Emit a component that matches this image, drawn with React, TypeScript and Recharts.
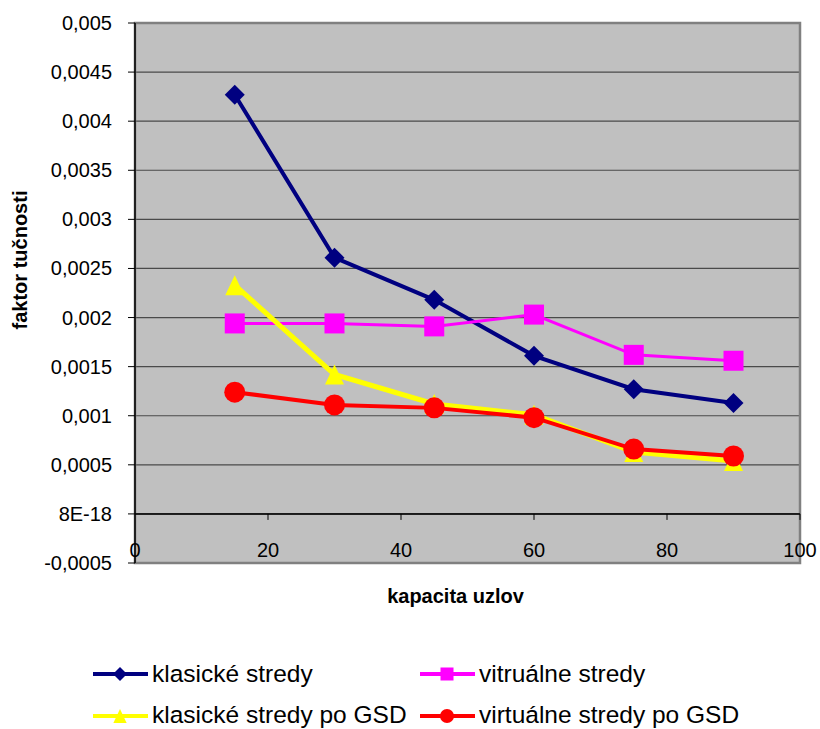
import React from 'react';
import {
  LineChart,
  Line,
  XAxis,
  YAxis,
  CartesianGrid,
  ReferenceLine,
  ReferenceArea,
  Legend,
} from 'recharts';

// kapacita uzlov (x values)
const kapacita = [15, 30, 45, 60, 75, 90];

// faktor tučnosti per series
const klasickeStredy = [0.00427, 0.00261, 0.00218, 0.00161, 0.00127, 0.00113];
const vitrualneStredy = [0.00194, 0.00194, 0.00191, 0.00203, 0.00162, 0.00156];
const klasickeStredyGsd = [0.00233, 0.00142, 0.00112, 0.00101, 0.00063, 0.00054];
const virtualneStredyGsd = [0.00124, 0.00111, 0.00108, 0.00098, 0.00066, 0.00059];

// axis ticks
const xTicks = [0, 20, 40, 60, 80, 100];
const yTicks = [-0.0005, 0, 0.0005, 0.001, 0.0015, 0.002, 0.0025, 0.003, 0.0035, 0.004, 0.0045, 0.005];
const yTickLabels = ['-0,0005', '8E-18', '0,0005', '0,001', '0,0015', '0,002', '0,0025', '0,003', '0,0035', '0,004', '0,0045', '0,005'];

const seriesNames = ['klasické stredy', 'vitruálne stredy', 'klasické stredy po GSD', 'virtuálne stredy po GSD'];

const FONT = '"Liberation Sans", Arial, sans-serif';

const data = kapacita.map((k, i) => ({
  k,
  s0: klasickeStredy[i],
  s1: vitrualneStredy[i],
  s2: klasickeStredyGsd[i],
  s3: virtualneStredyGsd[i],
}));

const Y_MIN = yTicks[0];
const Y_MAX = yTicks[yTicks.length - 1];
const PLOT_H = 540;
const tickLen = ((Y_MAX - Y_MIN) * 6) / PLOT_H;

type MarkerKind = 'diamond' | 'square' | 'triangle' | 'circle';

function Marker({ kind, cx, cy, color, size }: { kind: MarkerKind; cx: number; cy: number; color: string; size: number }) {
  const h = size / 2;
  if (kind === 'diamond') {
    return <polygon points={`${cx},${cy - h} ${cx + h},${cy} ${cx},${cy + h} ${cx - h},${cy}`} fill={color} />;
  }
  if (kind === 'square') {
    return <rect x={cx - h} y={cy - h} width={size} height={size} fill={color} />;
  }
  if (kind === 'triangle') {
    return <polygon points={`${cx},${cy - h} ${cx + h * 0.95},${cy + h} ${cx - h * 0.95},${cy + h}`} fill={color} />;
  }
  return <circle cx={cx} cy={cy} r={h} fill={color} />;
}

const series: { key: string; name: string; color: string; width: number; marker: MarkerKind; size: number; legendSize: number }[] = [
  { key: 's0', name: seriesNames[0], color: '#000080', width: 4, marker: 'diamond', size: 20, legendSize: 14 },
  { key: 's1', name: seriesNames[1], color: '#FF00FF', width: 3, marker: 'square', size: 20, legendSize: 13 },
  { key: 's2', name: seriesNames[2], color: '#FFFF00', width: 5, marker: 'triangle', size: 20, legendSize: 14 },
  { key: 's3', name: seriesNames[3], color: '#FF0000', width: 4, marker: 'circle', size: 21, legendSize: 14 },
];

const legendLayout = [
  { x: 93, line: 674, base: 682 },
  { x: 420, line: 674, base: 682 },
  { x: 93, line: 716, base: 723 },
  { x: 420, line: 716, base: 723 },
];

const LEGEND_TOP = 645;

function LegendContent() {
  return (
    <svg width={820} height={84} style={{ display: 'block' }}>
      {series.map((s, i) => {
        const p = legendLayout[i];
        const ly = p.line - LEGEND_TOP;
        return (
          <g key={s.key}>
            <line x1={p.x} y1={ly} x2={p.x + 55} y2={ly} stroke={s.color} strokeWidth={4} />
            <Marker kind={s.marker} cx={p.x + 27} cy={ly} color={s.color} size={s.legendSize} />
            <text x={p.x + 59} y={p.base - LEGEND_TOP} fontFamily={FONT} fontSize={24.5} fill="#000">
              {s.name}
            </text>
          </g>
        );
      })}
    </svg>
  );
}

function XTick(props: any) {
  const { x, y, payload } = props;
  return (
    <text x={x} y={y - 6} textAnchor="middle" fontFamily={FONT} fontSize={20} fill="#000">
      {payload.value}
    </text>
  );
}

function YTick(props: any) {
  const { x, y, payload } = props;
  const idx = yTicks.indexOf(payload.value);
  const label = idx >= 0 ? yTickLabels[idx] : String(payload.value);
  return (
    <text x={x} y={y} dy={7} textAnchor="end" fontFamily={FONT} fontSize={20} fill="#000">
      {label}
    </text>
  );
}

export default function App() {
  return (
    <div style={{ position: 'absolute', left: 0, top: 0, width: 820, height: 729, background: '#fff' }}>
      <LineChart width={820} height={729} data={data} margin={{ top: 23, right: 20, left: 0, bottom: 136 }}>
        <CartesianGrid vertical={false} fill="#C0C0C0" stroke="#4a4a4a" strokeWidth={1.2} />
        <ReferenceArea
          x1={0}
          x2={100}
          y1={Y_MIN}
          y2={Y_MAX}
          fill="none"
          stroke="#808080"
          strokeWidth={2.5}
          ifOverflow="visible"
        />
        <XAxis
          dataKey="k"
          type="number"
          domain={[0, 100]}
          ticks={xTicks}
          interval={0}
          axisLine={false}
          tickLine={false}
          tickSize={0}
          tickMargin={0}
          height={30}
          tick={<XTick />}
          label={{
            content: (p: any) => {
              const vb = p.viewBox;
              return (
                <text
                  x={vb.x + vb.width / 2 - 12}
                  y={603}
                  textAnchor="middle"
                  fontFamily={FONT}
                  fontSize={20}
                  fontWeight="bold"
                  fill="#000"
                >
                  kapacita uzlov
                </text>
              );
            },
          }}
        />
        <YAxis
          type="number"
          domain={[Y_MIN, Y_MAX]}
          ticks={yTicks}
          interval={0}
          width={135}
          axisLine={{ stroke: '#000', strokeWidth: 1.5 }}
          tickLine={{ stroke: '#000', strokeWidth: 1 }}
          tickSize={7}
          tickMargin={16}
          tick={<YTick />}
          label={{
            content: () => {
              const cy = 260;
              return (
                <text
                  x={20}
                  y={cy}
                  transform={`rotate(-90, 20, ${cy})`}
                  textAnchor="middle"
                  dominantBaseline="central"
                  fontFamily={FONT}
                  fontSize={20}
                  fontWeight="bold"
                  fill="#000"
                >
                  faktor tučnosti
                </text>
              );
            },
          }}
        />
        <ReferenceLine y={0} stroke="#000" strokeWidth={1.5} />
        {xTicks
          .filter((t) => t > 0)
          .map((t) => (
            <ReferenceLine
              key={`xt${t}`}
              segment={[
                { x: t, y: 0 },
                { x: t, y: -tickLen },
              ]}
              stroke="#000"
              strokeWidth={1}
            />
          ))}
        {series.map((s) => (
          <Line
            key={s.key}
            dataKey={s.key}
            name={s.name}
            type="linear"
            stroke={s.color}
            strokeWidth={s.width}
            isAnimationActive={false}
            dot={(p: any) => (
              <Marker key={`${s.key}-${p.index}`} kind={s.marker} cx={p.cx} cy={p.cy} color={s.color} size={s.size} />
            )}
            activeDot={false}
          />
        ))}
        <Legend
          verticalAlign="middle"
          align="center"
          layout="horizontal"
          wrapperStyle={{ top: LEGEND_TOP, left: 0, width: 820, height: 84 }}
          content={<LegendContent />}
        />
      </LineChart>
    </div>
  );
}
